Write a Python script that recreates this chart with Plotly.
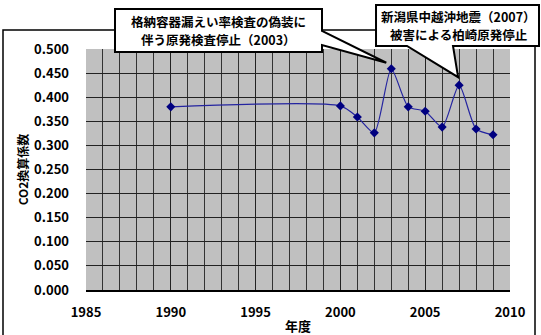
import plotly.graph_objects as go

# ---- data ----
years = [1990, 2000, 2001, 2002, 2003, 2004, 2005, 2006, 2007, 2008, 2009]
co2_factor = [0.380, 0.382, 0.359, 0.326, 0.459, 0.380, 0.371, 0.338, 0.425, 0.334, 0.322]
x_ticks = [1985, 1990, 1995, 2000, 2005, 2010]
callout1_lines = ["格納容器漏えい率検査の偽装に", "伴う原発検査停止（2003）"]
callout2_lines = ["新潟県中越沖地震（2007）", "被害による柏崎原発停止"]
callout1_year = 2003
callout2_year = 2007

W, H = 541, 335
L, R, T, B = 86, 510, 49, 290
XMIN, XMAX, YMIN, YMAX = 1985, 2010, 0.0, 0.5


def px(xp):
    return (xp - L) / (R - L)


def py(yp):
    return (B - yp) / (B - T)


def data_to_paper(xv, yv):
    return (xv - XMIN) / (XMAX - XMIN), (yv - YMIN) / (YMAX - YMIN)


FONT = "Noto Sans CJK JP, Noto Sans, sans-serif"

fig = go.Figure()
fig.add_trace(go.Scatter(
    x=years, y=co2_factor, mode="lines+markers",
    line=dict(color="#2424a0", width=1.2, shape="spline", smoothing=0.65),
    marker=dict(symbol="diamond", size=7, color="#000080"),
    showlegend=False,
))

# callout tips derived from data points
t1x, t1y = data_to_paper(callout1_year, co2_factor[years.index(callout1_year)])
t2x, t2y = data_to_paper(callout2_year, co2_factor[years.index(callout2_year)])
t1x -= 5 / (R - L); t1y += 6 / (B - T)
t2x -= 1 / (R - L); t2y += 8 / (B - T)


def path(points):
    return "M " + " L ".join(f"{x:.4f},{y:.4f}" for x, y in points) + " Z"


c1 = [(px(115), py(9)), (px(322), py(9)), (px(322), py(31)), (t1x, t1y),
      (px(322), py(45)), (px(322), py(52)), (px(115), py(52))]
c2 = [(px(376), py(5)), (px(539), py(5)), (px(539), py(46)), (px(453), py(46)),
      (t2x, t2y), (px(407), py(46)), (px(376), py(46))]

shapes = [
    dict(type="rect", xref="paper", yref="paper", x0=px(3), x1=px(535), y0=py(345), y1=py(30),
         line=dict(color="black", width=1.5), fillcolor="rgba(0,0,0,0)", layer="above"),
    dict(type="path", xref="paper", yref="paper", path=path(c1),
         line=dict(color="black", width=2), fillcolor="white", layer="above"),
    dict(type="path", xref="paper", yref="paper", path=path(c2),
         line=dict(color="black", width=2), fillcolor="white", layer="above"),
]

afont = dict(family=FONT, size=12.5, color="black", weight="bold")
annotations = []
for txt, yy in zip(callout1_lines, [22, 40]):
    annotations.append(dict(text=txt, xref="paper", yref="paper", x=px(218.5), y=py(yy),
                            showarrow=False, xanchor="center", yanchor="middle",
                            borderpad=0, font=afont))
for txt, yy in zip(callout2_lines, [16, 34]):
    annotations.append(dict(text=txt, xref="paper", yref="paper", x=px(458), y=py(yy),
                            showarrow=False, xanchor="center", yanchor="middle",
                            borderpad=0, font=afont))

fig.update_layout(
    width=W, height=H,
    margin=dict(l=L, r=W - R, t=T, b=H - B, autoexpand=False),
    paper_bgcolor="white", plot_bgcolor="#c0c0c0",
    font=dict(family=FONT, color="black"),
    shapes=shapes, annotations=annotations,
    xaxis=dict(
        range=[XMIN, XMAX], tickvals=x_ticks, ticktext=[str(v) for v in x_ticks],
        showgrid=True, gridcolor="#222222", gridwidth=1,
        minor=dict(dtick=1, showgrid=True, gridcolor="#333333", gridwidth=1),
        showline=True, linecolor="black", linewidth=1.5, mirror=False,
        ticks="", zeroline=False, automargin=False,
        tickfont=dict(family=FONT, size=13, color="black", weight="bold"),
        ticklabelstandoff=10,
        title=dict(text="年度", standoff=3,
                   font=dict(family=FONT, size=13, color="black", weight="bold")),
    ),
    yaxis=dict(
        range=[YMIN, YMAX], dtick=0.05, tickformat=".3f",
        showgrid=True, gridcolor="#222222", gridwidth=1,
        showline=False, zeroline=False, ticks="", automargin=False,
        tickfont=dict(family=FONT, size=13, color="black", weight="bold"),
        ticklabelstandoff=16,
        title=dict(text="CO2換算係数", standoff=2,
                   font=dict(family=FONT, size=12, color="black", weight="bold")),
    ),
)

fig.write_html("out.html")
